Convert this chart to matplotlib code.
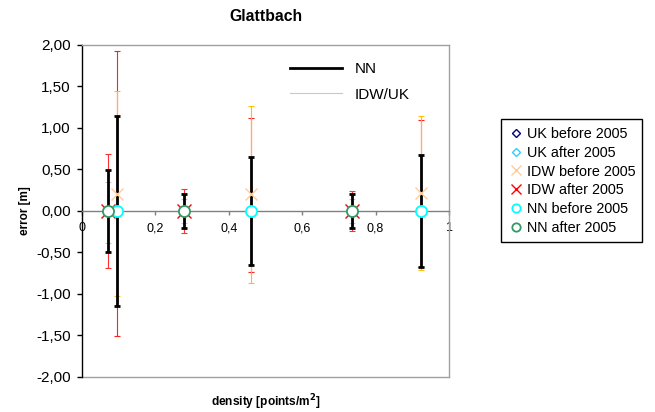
import matplotlib.pyplot as plt
from matplotlib.lines import Line2D
from matplotlib.ticker import FuncFormatter

plt.rcParams['font.family'] = ['Liberation Sans', 'DejaVu Sans']

# positions (density, points/m2)
x_before = [0.094, 0.460, 0.923]
x_after = [0.070, 0.277, 0.736]

# mean errors
nn_before = [0.0, 0.0, 0.0]
nn_after = [0.0, 0.0, 0.0]
idw_before = [0.21, 0.20, 0.22]
idw_after = [0.0, 0.0, 0.0]
uk_before = [0.0, 0.0, 0.0]
uk_after = [0.0, 0.0, 0.0]

# error bar sizes
nn_before_err = [1.15, 0.65, 0.67]
nn_after_err = [0.49, 0.20, 0.20]
idw_before_err = [1.24, 1.07, 0.93]
idw_after_err = [0.69, 0.27, 0.24]
uk_before_lo = [1.51, 0.74, 0.68]
uk_before_hi = [1.93, 1.12, 1.10]
uk_after_lo = [0.38, 0.15, 0.15]
uk_after_hi = [0.35, 0.15, 0.15]

fig = plt.figure(figsize=(6.55, 4.12), dpi=100)
ax = fig.add_axes([0.1252, 0.085, 0.5603, 0.8058])

thin = dict(fmt='none', elinewidth=0.8, capsize=2.3, capthick=0.8, zorder=3)
ax.errorbar(x_before, uk_before, yerr=[uk_before_lo, uk_before_hi], ecolor='#FF2020', **thin)
ax.errorbar(x_before, idw_before, yerr=idw_before_err, ecolor='#FFC000', **thin)
ax.errorbar(x_after, uk_after, yerr=[uk_after_lo, uk_after_hi], ecolor='#C8C8C8', **thin)
ax.errorbar(x_after, idw_after, yerr=idw_after_err, ecolor='#FF3030', **thin)

thick = dict(fmt='none', ecolor='black', elinewidth=2.0, capsize=2.3, capthick=2.0, zorder=4)
ax.errorbar(x_before, nn_before, yerr=nn_before_err, **thick)
ax.errorbar(x_after, nn_after, yerr=nn_after_err, **thick)

mk = dict(linestyle='none', zorder=5, clip_on=False)
ax.plot(x_before, uk_before, marker='D', ms=5, mfc='none', mec='#000080', mew=1.0,
        label='UK before 2005', **mk)
ax.plot(x_after, uk_after, marker='D', ms=5, mfc='none', mec='#33CCFF', mew=1.0,
        label='UK after 2005', **mk)
ax.plot(x_before, idw_before, marker='x', ms=9, mec='#FFCC99', mew=1.0,
        label='IDW before 2005', **mk)
ax.plot(x_after, idw_after, marker='x', ms=10, mec='#FF0000', mew=1.0,
        label='IDW after 2005', **mk)
ax.plot(x_before, nn_before, marker='o', ms=8, mfc='white', mec='#00FFFF', mew=1.3,
        label='NN before 2005', **mk)
ax.plot(x_after, nn_after, marker='o', ms=8, mfc='white', mec='#339966', mew=1.3,
        label='NN after 2005', **mk)

ax.set_xlim(0, 1)
ax.set_ylim(-2, 2)
ax.set_yticks([-2, -1.5, -1, -0.5, 0, 0.5, 1, 1.5, 2])
ax.yaxis.set_major_formatter(FuncFormatter(lambda v, p: f'{v:.2f}'.replace('.', ',')))
ax.set_xticks([0, 0.2, 0.4, 0.6, 0.8, 1.0])
ax.set_xticklabels(['0', '0,2', '0,4', '0,6', '0,8', '1'])

ax.spines['bottom'].set_position(('data', 0))
ax.spines['bottom'].set_color('#808080')
ax.spines['top'].set_color('#A0A0A0')
ax.spines['right'].set_color('#A0A0A0')
ax.spines['left'].set_color('black')
for s in ax.spines.values():
    s.set_linewidth(1.0)
ax.plot([0, 1], [0, 0], transform=ax.transAxes, color='#A0A0A0', lw=1.0, clip_on=False)

ax.tick_params(axis='y', direction='out', length=3.6, width=1, labelsize=11, pad=4.5)
ax.tick_params(axis='x', direction='out', length=3, width=1, labelsize=9, pad=5,
               color='#808080')

ax.set_ylabel('error [m]', fontsize=8.5, fontweight='bold', labelpad=4)
fig.text(0.406, 0.024, 'density [points/m$^\\mathbf{2}$]', fontsize=8.6,
         fontweight='bold', ha='center', va='center')
ax.set_title('Glattbach', fontsize=11.3, fontweight='bold', pad=17)

h, l = ax.get_legend_handles_labels()
fig.legend(h, l, loc='center', bbox_to_anchor=(0.8725, 0.5607), fontsize=10.4,
           frameon=True, fancybox=False, edgecolor='black', framealpha=1,
           markerscale=0.75, handlelength=1.2, handletextpad=0.1, labelspacing=0.34,
           borderpad=0.5, borderaxespad=0)

line_handles = [Line2D([], [], color='black', lw=2.0),
                Line2D([], [], color='#C8C8C8', lw=0.8)]
ax.legend(line_handles, ['NN', 'IDW/UK'], loc='upper left', bbox_to_anchor=(0.53, 0.99),
          frameon=False, fontsize=11, handlelength=3.4, handletextpad=0.8,
          labelspacing=0.75)

fig.savefig('out.png', dpi=100)
